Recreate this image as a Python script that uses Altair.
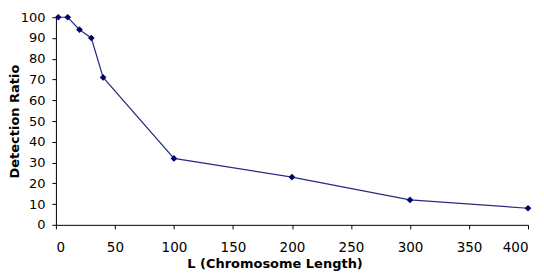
import altair as alt
import pandas as pd

L = [2, 10, 20, 30, 40, 100, 200, 300, 400]
ratio = [100, 100, 94, 90, 71, 32, 23, 12, 8]
x_ticks = list(range(0, 401, 50))
y_ticks = list(range(0, 101, 10))

df = pd.DataFrame({"L": L, "ratio": ratio})

base = alt.Chart(df).encode(
    x=alt.X(
        "L:Q",
        scale=alt.Scale(domain=[0, 400], nice=False, zero=True),
        axis=alt.Axis(
            values=x_ticks,
            title="L (Chromosome Length)",
            labelPadding=12,
            labelFontSize=13.5,
            titleX=219,
            titleY=33,
            titleBaseline="top",
            titleAnchor="start",
            titleAlign="center",
        ),
    ),
    y=alt.Y(
        "ratio:Q",
        scale=alt.Scale(domain=[0, 100], nice=False),
        axis=alt.Axis(
            values=y_ticks,
            title="Detection Ratio",
            labelPadding=7,
            titleX=-41,
            titleY=104,
            titleAngle=270,
            titleBaseline="middle",
            titleAlign="center",
        ),
    ),
)

line = base.mark_line(color="#2b2b7f", strokeWidth=1.2)
pts = base.mark_point(shape="diamond", filled=True, size=45, color="#00006e", opacity=1)

chart = (
    (line + pts)
    .properties(
        width=473,
        height=208,
        autosize="none",
        padding={"left": 48, "top": 9, "right": 8, "bottom": 47},
        background="white",
    )
    .configure_view(stroke=None)
    .configure_axis(
        grid=False,
        domainColor="black",
        domainWidth=1,
        tickColor="black",
        tickSize=4,
        labelColor="black",
        titleColor="black",
        labelFont="DejaVu Sans",
        labelFontSize=13,
        titleFont="DejaVu Sans",
        titleFontSize=13,
        titleFontWeight="bold",
    )
)

chart.save("out.html", embed_options={"renderer": "svg", "actions": False})
